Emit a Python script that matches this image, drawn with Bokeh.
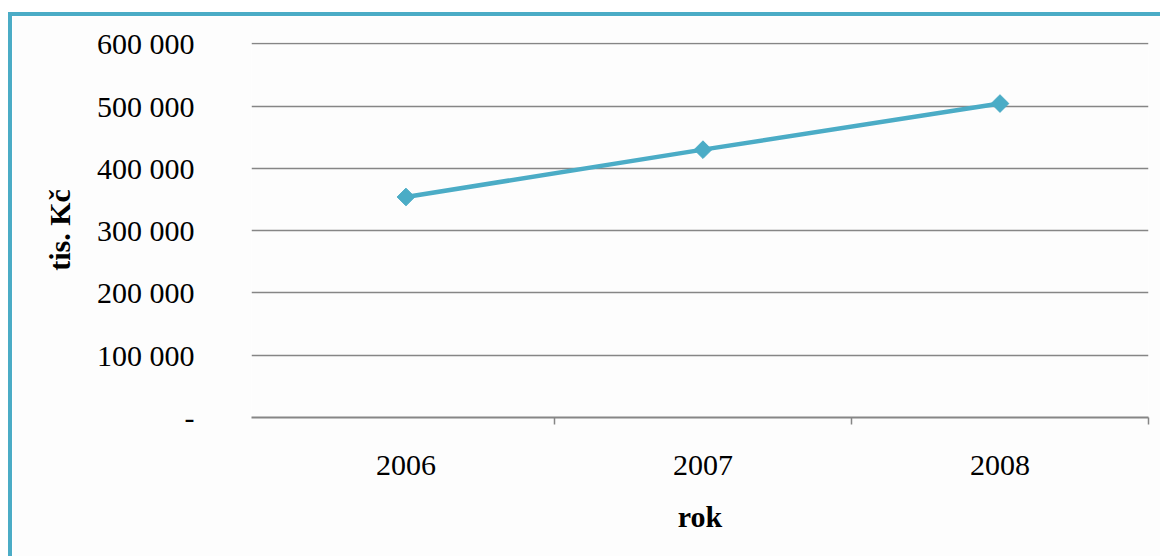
import math
from bokeh.plotting import figure
from bokeh.models import FixedTicker, Range1d
from bokeh.embed import file_html
from bokeh.resources import INLINE

# Annual values in thousands of CZK
years = ["2006", "2007", "2008"]
values = [354000, 430000, 504000]
y_ticks = [0, 100000, 200000, 300000, 400000, 500000, 600000]
y_tick_labels = ["-", "100 000", "200 000", "300 000", "400 000", "500 000", "600 000"]

TEAL = "#4BACC6"
GRID = "#868686"
FONT = "Liberation Serif"

# each year occupies one unit-wide slot; points sit in the middle of their slot
xs = [i + 0.5 for i in range(len(years))]
BORDER = 4
OFF_X, OFF_Y = 8, 12

p = figure(
    width=1164 - OFF_X - BORDER, height=560 - OFF_Y - BORDER,
    x_range=Range1d(-0.02, len(years)), y_range=Range1d(0, 602000),
    output_backend="svg", toolbar_location=None,
    min_border_left=251 - OFF_X - BORDER, min_border_right=16,
    min_border_top=42 - OFF_Y - BORDER, min_border_bottom=143,
)
p.margin = (OFF_Y, 0, 0, OFF_X)
p.styles = {"border-top": f"{BORDER}px solid {TEAL}", "border-left": f"{BORDER}px solid {TEAL}"}
p.outline_line_color = None
p.background_fill_color = "#FDFDFD"
p.border_fill_color = "#FDFDFD"

p.line(xs, values, line_color=TEAL, line_width=4.5)
p.scatter(xs, values, marker="square", angle=math.pi / 4, size=12.5,
          fill_color=TEAL, line_color=TEAL, line_width=1)

# x axis: labels at slot centres, tick marks at slot boundaries
p.xaxis.ticker = FixedTicker(ticks=xs, minor_ticks=[1, 2, 3])
p.xaxis.major_label_overrides = {x: y for x, y in zip(xs, years)}
p.xaxis.major_tick_line_color = None
p.xaxis.minor_tick_line_color = GRID
p.xaxis.minor_tick_line_width = 1.5
p.xaxis.minor_tick_out = 7
p.xaxis.minor_tick_in = 0
p.xaxis.axis_line_color = GRID
p.xaxis.axis_line_width = 2
p.xaxis.major_label_text_font = FONT
p.xaxis.major_label_text_font_size = "30px"
p.xaxis.major_label_text_color = "#000000"
p.xaxis.major_label_standoff = 31
p.xaxis.axis_label = "rok"
p.xaxis.axis_label_text_font = FONT
p.xaxis.axis_label_text_font_size = "30px"
p.xaxis.axis_label_text_font_style = "bold"
p.xaxis.axis_label_text_color = "#000000"
p.xaxis.axis_label_standoff = 22

# y axis
p.yaxis.ticker = FixedTicker(ticks=y_ticks)
p.yaxis.major_label_overrides = {t: s for t, s in zip(y_ticks, y_tick_labels)}
p.yaxis.axis_line_color = None
p.yaxis.major_tick_line_color = None
p.yaxis.minor_tick_line_color = None
p.yaxis.major_label_text_font = FONT
p.yaxis.major_label_text_font_size = "30px"
p.yaxis.major_label_text_color = "#000000"
p.yaxis.major_label_standoff = 51
p.yaxis.axis_label = "tis. Kč"
p.yaxis.axis_label_text_font = FONT
p.yaxis.axis_label_text_font_size = "30px"
p.yaxis.axis_label_text_font_style = "bold"
p.yaxis.axis_label_text_color = "#000000"
p.yaxis.axis_label_standoff = 18

p.xgrid.grid_line_color = None
p.ygrid.grid_line_color = GRID
p.ygrid.grid_line_width = 1.5

open("out.html", "w").write(file_html(p, INLINE))
